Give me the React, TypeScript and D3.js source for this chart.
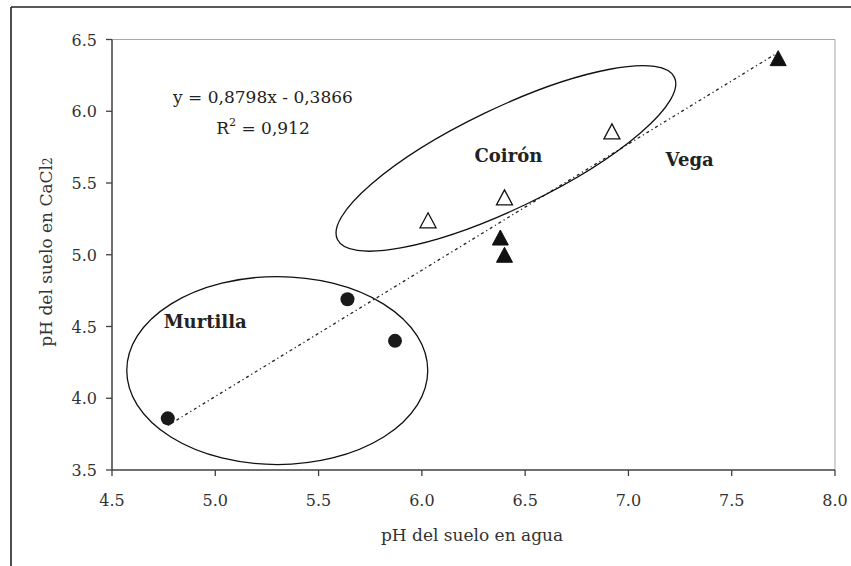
import React from "react";
import * as d3 from "d3";

// ---- data ----
const murtillaX = [4.77, 5.64, 5.87];
const murtillaY = [3.86, 4.69, 4.4];
const coironX = [6.03, 6.4, 6.92];
const coironY = [5.24, 5.4, 5.86];
const vegaX = [6.38, 6.4, 7.725];
const vegaY = [5.12, 5.0, 6.37];
const xTicks = [4.5, 5.0, 5.5, 6.0, 6.5, 7.0, 7.5, 8.0];
const yTicks = [3.5, 4.0, 4.5, 5.0, 5.5, 6.0, 6.5];
const slope = 0.8798;
const intercept = -0.3866;
const trendRange = [4.77, 7.72];
const groupLabels = ["Murtilla", "Coirón", "Vega"];
const groupLabelX = [4.75, 6.255, 7.18];
const groupLabelY = [4.49, 5.648, 5.62];
// ellipse centres in data units
const murtillaEllipse = { cx: 5.3, cy: 4.193 };
const coironEllipse = { cx: 6.407, cy: 5.671 };

const W = 851;
const H = 566;
const FONT = "'DejaVu Serif', serif";

export default function App() {
  const x = d3.scaleLinear().domain([4.5, 8]).range([112, 835]);
  const y = d3.scaleLinear().domain([3.5, 6.5]).range([470, 39.5]);
  const fmt = d3.format(".1f");

  const trend = d3.line<number>()
    .x((d) => x(d))
    .y((d) => y(slope * d + intercept));

  const tri = (cx: number, cy: number) => {
    const w = 16, h = 15;
    return `M${cx},${cy - h / 2}L${cx + w / 2},${cy + h / 2}L${cx - w / 2},${cy + h / 2}Z`;
  };

  return (
    <svg width={W} height={H} style={{ position: "absolute", left: 0, top: 0, background: "#fff" }}>
      <rect x={0} y={0} width={W} height={H} fill="#fff" />
      {/* outer frame */}
      <line x1={11} y1={7} x2={W} y2={7} stroke="#222" strokeWidth={1.6} />
      <line x1={11} y1={7} x2={11} y2={H} stroke="#222" strokeWidth={1.6} />

      {/* plot area border (top/right) */}
      <line x1={x(4.5)} y1={y(6.5)} x2={x(8)} y2={y(6.5)} stroke="#a6a6a6" strokeWidth={1} />
      <line x1={x(8)} y1={y(6.5)} x2={x(8)} y2={y(3.5)} stroke="#a6a6a6" strokeWidth={1} />

      {/* axes */}
      <line x1={x(4.5)} y1={y(3.5)} x2={x(8)} y2={y(3.5)} stroke="#404040" strokeWidth={1.5} />
      <line x1={x(4.5)} y1={y(3.5)} x2={x(4.5)} y2={y(6.5)} stroke="#404040" strokeWidth={1.5} />
      {xTicks.map((t) => (
        <g key={"x" + t}>
          <line x1={x(t)} x2={x(t)} y1={y(3.5)} y2={y(3.5) + 6} stroke="#404040" strokeWidth={1.3} />
          <text x={x(t)} y={506} textAnchor="middle" fontFamily={FONT} fontSize={16} fill="#333">
            {fmt(t)}
          </text>
        </g>
      ))}
      {yTicks.map((t) => (
        <g key={"y" + t}>
          <line x1={x(4.5) - 6} x2={x(4.5)} y1={y(t)} y2={y(t)} stroke="#404040" strokeWidth={1.3} />
          <text x={97} y={y(t) + 6} textAnchor="end" fontFamily={FONT} fontSize={16} fill="#333">
            {fmt(t)}
          </text>
        </g>
      ))}

      {/* axis titles */}
      <text x={472} y={541} textAnchor="middle" fontFamily={FONT} fontSize={17} fill="#333">
        pH del suelo en agua
      </text>
      <text
        transform={`translate(52,252) rotate(-90)`}
        textAnchor="middle"
        fontFamily={FONT}
        fontSize={17}
        fill="#333"
      >
        pH del suelo en CaCl<tspan fontSize={12} dy={0}>2</tspan>
      </text>

      {/* trendline */}
      <path d={trend(trendRange) || ""} fill="none" stroke="#222" strokeWidth={1.3} strokeDasharray="3 3 1.2 3" />

      {/* ellipses */}
      <ellipse
        cx={x(murtillaEllipse.cx)}
        cy={y(murtillaEllipse.cy)}
        rx={150.5}
        ry={94}
        fill="none"
        stroke="#111"
        strokeWidth={1.3}
      />
      <ellipse
        transform={`translate(${x(coironEllipse.cx)},${y(coironEllipse.cy)}) rotate(-25.7)`}
        cx={0}
        cy={0}
        rx={187}
        ry={50}
        fill="none"
        stroke="#111"
        strokeWidth={1.3}
      />

      {/* points */}
      {murtillaX.map((d, i) => (
        <circle key={"m" + i} cx={x(d)} cy={y(murtillaY[i])} r={7} fill="#1a1a1a" />
      ))}
      {coironX.map((d, i) => (
        <path key={"c" + i} d={tri(x(d), y(coironY[i]))} fill="#fff" stroke="#111" strokeWidth={1.3} />
      ))}
      {vegaX.map((d, i) => (
        <path key={"v" + i} d={tri(x(d), y(vegaY[i]))} fill="#111" stroke="#111" strokeWidth={1} />
      ))}

      {/* group labels */}
      {groupLabels.map((l, i) => (
        <text
          key={l}
          x={x(groupLabelX[i])}
          y={y(groupLabelY[i])}
          fontFamily={FONT}
          fontWeight="bold"
          fontSize={18}
          fill="#222"
        >
          {l}
        </text>
      ))}

      {/* equation */}
      <text x={263} y={103} textAnchor="middle" fontFamily={FONT} fontSize={17} fill="#222">
        y = 0,8798x - 0,3866
      </text>
      <text x={263} y={134} textAnchor="middle" fontFamily={FONT} fontSize={17} fill="#222">
        R<tspan fontSize={11} dy={-8}>2</tspan>
        <tspan dy={8}> = 0,912</tspan>
      </text>
    </svg>
  );
}
